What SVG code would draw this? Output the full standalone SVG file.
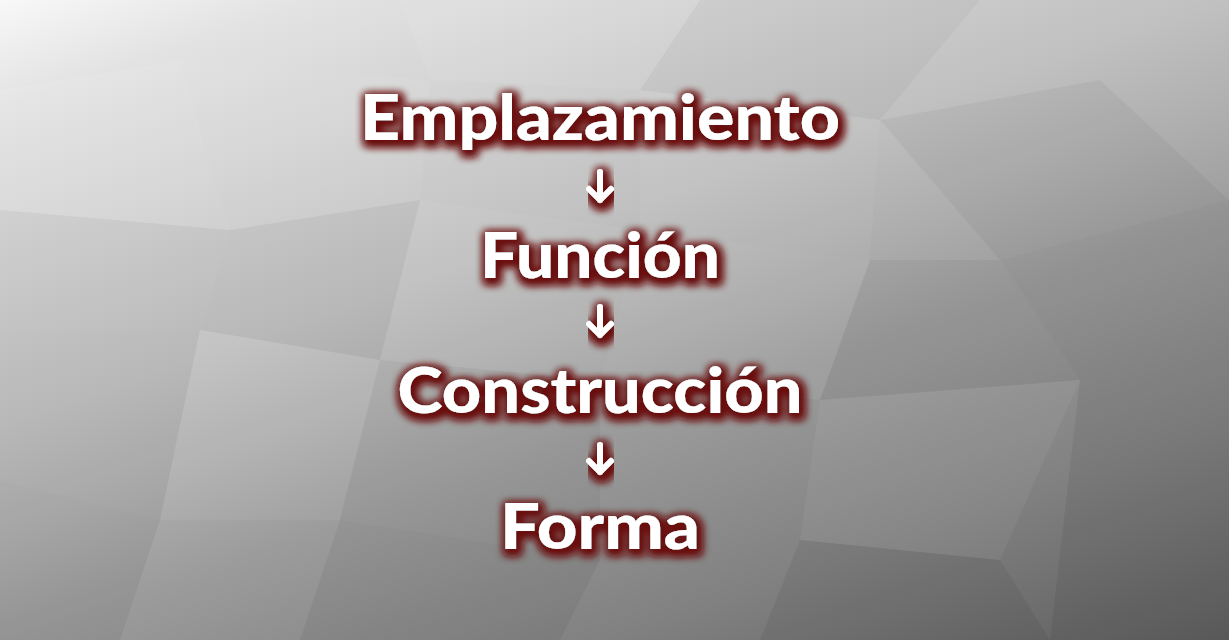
<svg xmlns="http://www.w3.org/2000/svg" width="1229" height="640" viewBox="0 0 1229 640">
<defs>
<linearGradient id="bg" gradientUnits="userSpaceOnUse" x1="0" y1="0" x2="330" y2="952">
<stop offset="0" stop-color="#f8f8f8"/>
<stop offset="0.1" stop-color="#e3e3e3"/>
<stop offset="0.4" stop-color="#c0c0c0"/>
<stop offset="0.5" stop-color="#afafaf"/>
<stop offset="0.6" stop-color="#9c9c9c"/>
<stop offset="0.8" stop-color="#808080"/>
<stop offset="1" stop-color="#5e5e5e"/>
</linearGradient>
<filter id="glow" x="-10%" y="-40%" width="120%" height="180%">
<feMorphology in="SourceAlpha" operator="dilate" radius="3" result="d"/>
<feGaussianBlur in="d" stdDeviation="4" result="b"/>
<feOffset in="b" dx="2" dy="3" result="o"/>
<feFlood flood-color="#6a1212"/>
<feComposite in2="o" operator="in" result="g"/>
<feMerge><feMergeNode in="g"/><feMergeNode in="g"/><feMergeNode in="SourceGraphic"/></feMerge>
</filter>
</defs>
<style>
.lbl{font-family:"Lato","Open Sans","Liberation Sans",sans-serif;font-weight:900;font-size:62px;fill:#ffffff;text-anchor:middle}
.arr{fill:none;stroke:#ffffff;stroke-width:6;stroke-linecap:round;stroke-linejoin:round}
.p{stroke:none}
.l{fill:#ffffff}
.d{fill:#000000}
</style>
<rect width="1229" height="640" fill="url(#bg)"/>
<g id="lowpoly">
<polygon class="p l" points="0,90 180,60 230,230 0,210" opacity="0.08"/>
<polygon class="p d" points="0,210 230,230 200,330 0,330" opacity="0.03"/>
<polygon class="p d" points="230,230 420,200 380,360 200,330" opacity="0.04"/>
<polygon class="p l" points="420,200 640,230 600,380 380,360" opacity="0.04"/>
<polygon class="p l" points="640,230 870,260 820,400 600,380" opacity="0.06"/>
<polygon class="p d" points="870,260 1000,260 1080,380 820,400" opacity="0.04"/>
<polygon class="p d" points="880,120 1100,80 1229,200 1000,260" opacity="0.04"/>
<polygon class="p d" points="1000,260 1229,200 1229,420 1080,380" opacity="0.06"/>
<polygon class="p d" points="0,330 200,330 160,520 0,480" opacity="0.04"/>
<polygon class="p l" points="200,330 380,360 340,520 160,520" opacity="0.05"/>
<polygon class="p d" points="380,360 600,380 600,560 340,520" opacity="0.03"/>
<polygon class="p l" points="820,400 1080,380 1000,560 800,540" opacity="0.05"/>
<polygon class="p d" points="1080,380 1229,420 1229,640 1050,640" opacity="0.06"/>
<polygon class="p d" points="0,480 160,520 120,640 0,640" opacity="0.05"/>
<polygon class="p l" points="400,0 700,0 640,90 430,80" opacity="0.06"/>
<polygon class="p d" points="700,0 980,0 880,120 640,90" opacity="0.03"/>
<polygon class="p d" points="340,520 600,560 560,640 300,640" opacity="0.05"/>
<polygon class="p d" points="800,540 1000,560 1050,640 760,640" opacity="0.06"/>
<polygon class="p l" points="180,60 430,80 420,200 230,230" opacity="0.05"/>
<polygon class="p l" points="640,90 880,120 870,260 640,230" opacity="0.04"/>
</g>
<g id="connectors" filter="url(#glow)">
<path class="arr" d="M600,172 V200 M589,189 L600,200 L611,189"/>
<path class="arr" d="M600,307 V335 M589,324 L600,335 L611,324"/>
<path class="arr" d="M600,445 V472 M589,461 L600,472 L611,461"/>
</g>
<g id="node-emplazamiento" filter="url(#glow)">
<text class="lbl" x="600" y="140" textLength="480" lengthAdjust="spacingAndGlyphs">Emplazamiento</text>
</g>
<g id="node-funcion" filter="url(#glow)">
<text class="lbl" x="600" y="278" textLength="240" lengthAdjust="spacingAndGlyphs">Función</text>
</g>
<g id="node-construccion" filter="url(#glow)">
<text class="lbl" x="600" y="413" textLength="405" lengthAdjust="spacingAndGlyphs">Construcción</text>
</g>
<g id="node-forma" filter="url(#glow)">
<text class="lbl" x="600" y="549" textLength="200" lengthAdjust="spacingAndGlyphs">Forma</text>
</g>
</svg>
